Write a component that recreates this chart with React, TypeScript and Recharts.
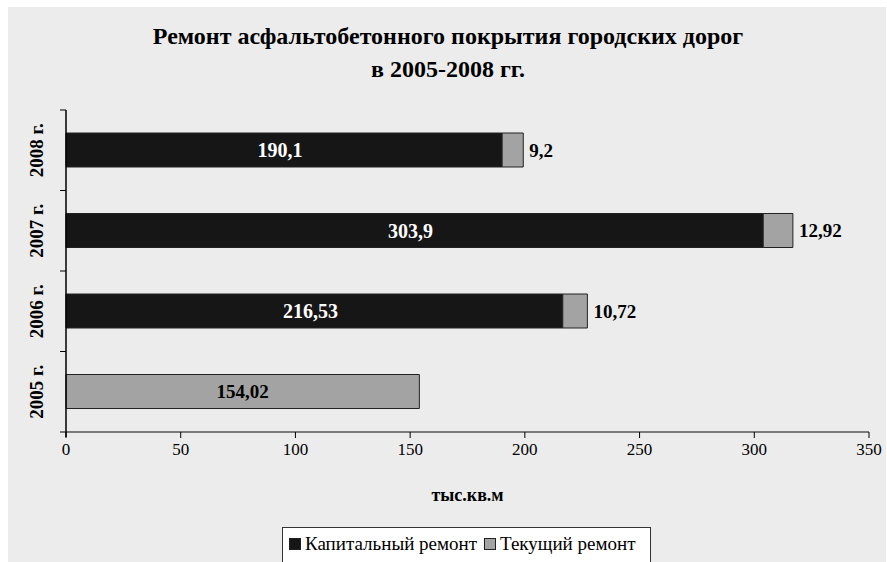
import React from 'react';
import { BarChart, Bar, XAxis, YAxis, LabelList } from 'recharts';

const YEARS = ['2008 г.', '2007 г.', '2006 г.', '2005 г.'];
const CAPITAL = [190.1, 303.9, 216.53, null];
const CURRENT = [9.2, 12.92, 10.72, 154.02];
const X_TICKS = [0, 50, 100, 150, 200, 250, 300, 350];
const SERIES = ['Капитальный ремонт', 'Текущий ремонт'];
const TITLE = ['Ремонт асфальтобетонного покрытия городских дорог', 'в 2005-2008 гг.'];
const X_TITLE = 'тыс.кв.м';

const FONT = '"Liberation Serif", "Times New Roman", serif';
const BG = '#ececec';
const DARK = '#161616';
const GREY = '#a3a3a3';
const EDGE = '#222222';

const CHART_W = 878;
const CHART_H = 555;
const MARGIN = { top: 103, right: 17, bottom: 60, left: 0 };
const X_AXIS_H = 70;
const PLOT_H = CHART_H - MARGIN.top - MARGIN.bottom - X_AXIS_H;

const fmt = (v: number) => String(v).replace('.', ',');

const data = YEARS.map((year, i) => ({
  year,
  capital: CAPITAL[i],
  current: CURRENT[i],
}));

const YearTick = (props: any) => {
  const { x, y, payload, index } = props;
  const band = PLOT_H / YEARS.length;
  return (
    <g>
      <line x1={x - 6} x2={x} y1={y - band / 2} y2={y - band / 2} stroke="#000" />
      {index === YEARS.length - 1 && (
        <>
          <line x1={x - 6} x2={x} y1={y + band / 2} y2={y + band / 2} stroke="#000" />
          <line x1={x} x2={x} y1={y + band / 2} y2={y + band / 2 + 5} stroke="#000" strokeWidth={1.5} />
        </>
      )}
      <text
        x={x - 30}
        y={y}
        transform={`rotate(-90, ${x - 30}, ${y})`}
        textAnchor="middle"
        dominantBaseline="central"
        fontFamily={FONT}
        fontWeight="bold"
        fontSize={19}
        fill="#000"
      >
        {payload.value}
      </text>
    </g>
  );
};

const ValueTick = (props: any) => {
  const { x, y, payload } = props;
  return (
    <text x={x} y={y} dy="0.71em" textAnchor="middle" fontFamily={FONT} fontSize={17} fill="#000">
      {payload.value}
    </text>
  );
};

const CapitalLabel = (props: any) => {
  const { x, y, width, height, value } = props;
  if (value == null) return null;
  return (
    <text
      x={x + width / 2 - 4}
      y={y + height / 2}
      textAnchor="middle"
      dominantBaseline="central"
      fontFamily={FONT}
      fontWeight="bold"
      fontSize={20}
      fill="#fff"
    >
      {fmt(value)}
    </text>
  );
};

const CurrentLabel = (props: any) => {
  const { x, y, width, height, value, index } = props;
  if (value == null) return null;
  const alone = CAPITAL[index] == null;
  return (
    <text
      x={alone ? x + width / 2 : x + width + 6}
      y={y + height / 2}
      textAnchor={alone ? 'middle' : 'start'}
      dominantBaseline="central"
      fontFamily={FONT}
      fontWeight="bold"
      fontSize={19}
      fill="#000"
    >
      {fmt(value)}
    </text>
  );
};

const AxisTitle = (props: any) => {
  const { viewBox } = props;
  return (
    <text
      x={viewBox.x + viewBox.width / 2}
      y={viewBox.y + 63}
      textAnchor="middle"
      dominantBaseline="central"
      fontFamily={FONT}
      fontWeight="bold"
      fontSize={18}
      fill="#000"
    >
      {X_TITLE}
    </text>
  );
};

export default function App() {
  return (
    <div style={{ position: 'absolute', left: 0, top: 0, width: 887, height: 562, background: '#fff', overflow: 'hidden' }}>
      <div style={{ position: 'absolute', left: 8, top: 7, width: CHART_W, height: CHART_H, background: BG }}>
        <div
          style={{
            position: 'absolute',
            left: 0,
            top: 13,
            width: CHART_W,
            textAlign: 'center',
            fontFamily: FONT,
            fontWeight: 'bold',
            fontSize: 24,
            lineHeight: '33px',
            color: '#000',
            paddingLeft: 2,
            boxSizing: 'border-box',
          }}
        >
          {TITLE.map((t) => (
            <div key={t}>{t}</div>
          ))}
        </div>
        <BarChart
          width={CHART_W}
          height={CHART_H}
          data={data}
          layout="vertical"
          margin={MARGIN}
          barSize={34}
          style={{ position: 'absolute', left: 0, top: 0 }}
        >
          <XAxis
            type="number"
            domain={[0, 350]}
            ticks={X_TICKS}
            height={X_AXIS_H}
            axisLine={{ stroke: '#555', strokeWidth: 1.5 }}
            tickLine={{ stroke: '#000' }}
            tickSize={6}
            tickMargin={5}
            tick={<ValueTick />}
            label={<AxisTitle />}
          />
          <YAxis
            type="category"
            dataKey="year"
            width={58}
            axisLine={{ stroke: '#000', strokeWidth: 1.5 }}
            tickLine={false}
            tickSize={0}
            tickMargin={0}
            tick={<YearTick />}
            interval={0}
          />
          <Bar dataKey="capital" name={SERIES[0]} stackId="a" fill={DARK} stroke={EDGE} strokeWidth={1} isAnimationActive={false}>
            <LabelList dataKey="capital" content={<CapitalLabel />} />
          </Bar>
          <Bar dataKey="current" name={SERIES[1]} stackId="a" fill={GREY} stroke={EDGE} strokeWidth={1} isAnimationActive={false}>
            <LabelList dataKey="current" content={<CurrentLabel />} />
          </Bar>
        </BarChart>
        <div
          style={{
            position: 'absolute',
            left: 274,
            top: 520,
            width: 369,
            height: 40,
            background: '#fff',
            border: '1.5px solid #333',
            boxSizing: 'border-box',
            display: 'flex',
            alignItems: 'flex-start',
            paddingTop: 5,
            paddingLeft: 6,
            fontFamily: FONT,
            fontSize: 19,
            color: '#000',
            whiteSpace: 'nowrap',
          }}
        >
          {SERIES.map((name, i) => (
            <span key={name} style={{ display: 'inline-flex', alignItems: 'center', marginRight: 7 }}>
              <span
                style={{
                  display: 'inline-block',
                  width: 10,
                  height: 10,
                  background: i === 0 ? DARK : GREY,
                  border: `1px solid ${EDGE}`,
                  marginRight: 4,
                }}
              />
              {name}
            </span>
          ))}
        </div>
      </div>
    </div>
  );
}
